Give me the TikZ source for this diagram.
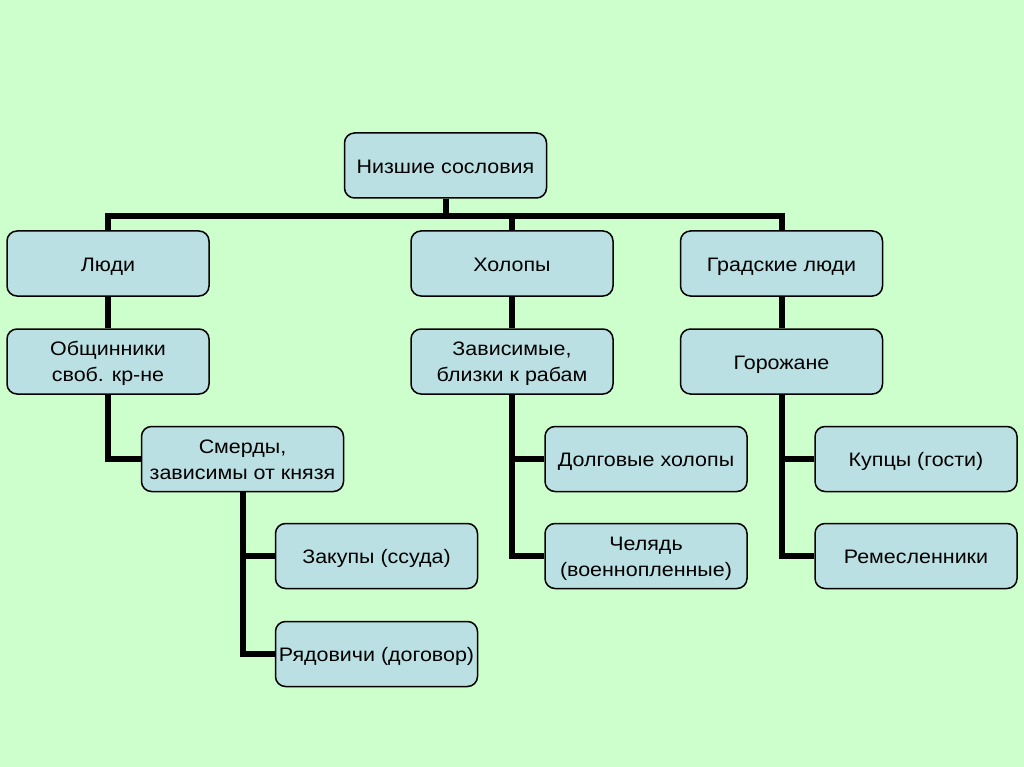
\documentclass[tikz,border=0pt]{standalone}
\usepackage{fontspec}
\setmainfont{Liberation Sans}[FakeStretch=1.1]
\usetikzlibrary{backgrounds}
\definecolor{bgc}{RGB}{204,255,204}
\definecolor{boxc}{RGB}{187,224,227}
\begin{document}
\begin{tikzpicture}[x=1pt,y=-1pt,
  box/.style={draw=black,line width=1.5pt,fill=boxc,rounded corners=10pt,
    minimum width=202pt,minimum height=65pt,align=center,inner sep=2pt,
    font=\fontsize{19.5}{26}\selectfont},
  one/.style={text height=19pt,text depth=3.6pt},
  two/.style={text height=40.4pt,text depth=0pt},
  conn/.style={draw=black,line width=6pt,line join=miter}]
\useasboundingbox (0,0) rectangle (1024,767);
% nodes
\node[box,one] (top) at (445.5,165.5) {Низшие сословия};
\node[box,one] (ludi) at (108,263.5) {Люди};
\node[box,one] (holop) at (512,263.5) {Холопы};
\node[box,one] (grad) at (781.5,263.5) {Градские люди};
\node[box,two] (obsh) at (108,361.5) {Общинники\\своб. кр-не};
\node[box,two] (zavis) at (512,361.5) {Зависимые,\\близки к рабам};
\node[box,one] (gorozh) at (781.5,361.5) {Горожане};
\node[box,two] (smerd) at (242.5,459) {Смерды,\\зависимы от князя};
\node[box,one] (dolg) at (646,459) {Долговые холопы};
\node[box,one] (kupcy) at (916,459) {Купцы (гости)};
\node[box,one] (zakup) at (376.5,556) {Закупы (ссуда)};
\node[box,two] (chel) at (646,556) {Челядь\\(военнопленные)};
\node[box,one] (remes) at (916,556) {Ремесленники};
\node[box,one] (ryad) at (376.5,654) {Рядовичи (договор)};
\coordinate (bar) at (445.5,216);
% connectors
\begin{pgfonlayer}{background}
\fill[bgc] (0,0) rectangle (1024,767);
\draw[conn] (top.south) -- (top.south |- bar);
\draw[conn] (ludi.north) -- (ludi.north |- bar) -- (grad.north |- bar) -- (grad.north);
\draw[conn] (holop.north |- bar) -- (holop.north);
\draw[conn] (ludi.south) -- (obsh.north);
\draw[conn] (holop.south) -- (zavis.north);
\draw[conn] (grad.south) -- (gorozh.north);
\draw[conn] (obsh.south) |- (smerd.west);
\draw[conn] (smerd.south) |- (zakup.west);
\draw[conn] (smerd.south) |- (ryad.west);
\draw[conn] (zavis.south) |- (dolg.west);
\draw[conn] (zavis.south) |- (chel.west);
\draw[conn] (gorozh.south) |- (kupcy.west);
\draw[conn] (gorozh.south) |- (remes.west);
\end{pgfonlayer}
\end{tikzpicture}
\end{document}
